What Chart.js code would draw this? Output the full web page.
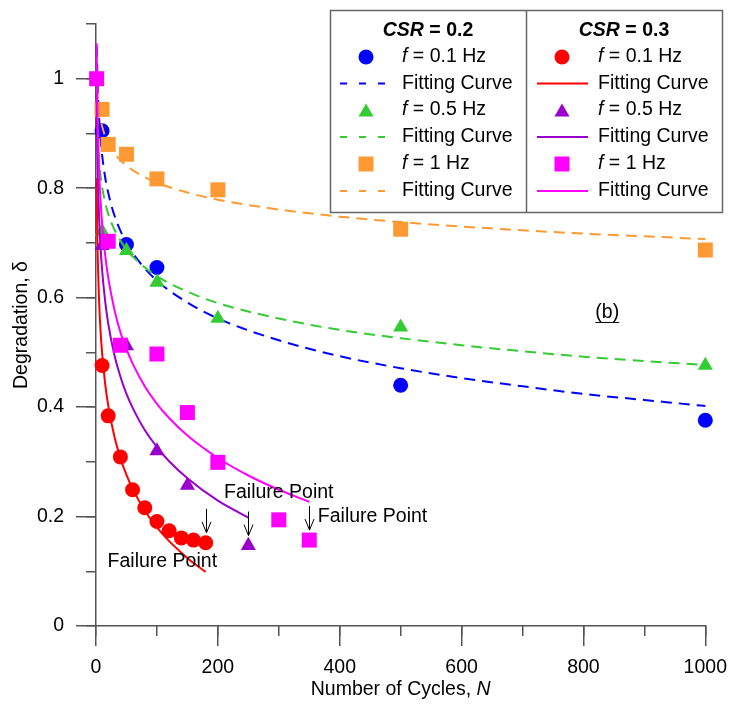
<!DOCTYPE html>
<html>
<head>
<meta charset="utf-8">
<title>Degradation vs number of cycles</title>
<script src="https://cdn.jsdelivr.net/npm/chart.js@4.4.1/dist/chart.umd.min.js"></script>
<style>
  html, body { margin: 0; padding: 0; background: #fff; }
  #wrap { width: 737px; height: 704px; position: relative; }
</style>
</head>
<body>
<div id="wrap"><canvas id="degradation-chart"></canvas></div>
<script>
// Measured degradation index, CSR = 0.2
let blueN = [10, 50, 100, 500, 1000];
let blueD = [0.905, 0.697, 0.655, 0.44, 0.376];
let greenN = [10, 50, 100, 200, 500, 1000];
let greenD = [0.721, 0.686, 0.628, 0.562, 0.546, 0.476];
let orangeN = [10, 20, 50, 100, 200, 500, 1000];
let orangeD = [0.944, 0.880, 0.862, 0.817, 0.797, 0.725, 0.687];

// Measured degradation index, CSR = 0.3
let redN = [10, 20, 40, 60, 80, 100, 120, 140, 160, 180];
let redD = [0.476, 0.384, 0.309, 0.249, 0.216, 0.191, 0.174, 0.161, 0.157, 0.152];
let purpleN = [10, 50, 100, 150, 250];
let purpleD = [0.695, 0.512, 0.320, 0.257, 0.147];
let magentaN = [1, 20, 40, 100, 150, 200, 300, 350];
let magentaD = [1.0, 0.703, 0.513, 0.497, 0.390, 0.299, 0.194, 0.157];

// Fitting curves
let fitN02 = [1, 2, 3, 5, 7, 10, 15, 20, 30, 50, 70, 100, 150, 200, 300, 400, 500, 600, 700, 800, 900, 1000];
let blueFit = [1.06, 1.021, 0.981, 0.930, 0.896, 0.861, 0.820, 0.792, 0.751, 0.700, 0.667, 0.631, 0.591, 0.562, 0.522, 0.493, 0.471, 0.453, 0.438, 0.424, 0.413, 0.402];
let greenFit = [0.965, 0.916, 0.887, 0.851, 0.827, 0.802, 0.774, 0.753, 0.725, 0.688, 0.665, 0.639, 0.611, 0.590, 0.562, 0.541, 0.526, 0.513, 0.502, 0.492, 0.484, 0.477];
let orangeFit = [1.016, 0.985, 0.967, 0.944, 0.929, 0.913, 0.895, 0.882, 0.864, 0.841, 0.826, 0.810, 0.792, 0.779, 0.761, 0.748, 0.738, 0.730, 0.723, 0.717, 0.712, 0.707];

let redFitN = [1, 2, 3, 5, 7, 10, 15, 20, 30, 40, 50, 60, 80, 100, 120, 140, 160, 180];
let redFit = [0.818, 0.722, 0.666, 0.595, 0.548, 0.499, 0.443, 0.403, 0.347, 0.307, 0.276, 0.251, 0.211, 0.180, 0.155, 0.134, 0.115, 0.099];
let purpleFitN = [1, 2, 3, 5, 7, 10, 15, 20, 30, 40, 50, 60, 80, 100, 120, 150, 200, 250];
let purpleFit = [0.975, 0.877, 0.820, 0.748, 0.701, 0.651, 0.594, 0.553, 0.496, 0.456, 0.424, 0.399, 0.358, 0.327, 0.301, 0.270, 0.229, 0.198];
let magentaFitN = [1, 2, 3, 5, 7, 10, 15, 20, 30, 40, 50, 60, 80, 100, 120, 150, 200, 250, 300, 350];
let magentaFit = [1.065, 0.966, 0.908, 0.835, 0.787, 0.736, 0.678, 0.637, 0.579, 0.537, 0.506, 0.480, 0.438, 0.406, 0.380, 0.348, 0.307, 0.275, 0.249, 0.227];

// Failure points (last cycle of each CSR = 0.3 test)
let failureN = [180, 250, 350];
let failureD = [0.152, 0.147, 0.157];

const FONT = '19.5px "Liberation Sans", Arial, sans-serif';
const axisColor = '#555';

const pts = (xs, ys) => xs.map((x, i) => ({ x: x, y: ys[i] }));

function markers(label, xs, ys, color, style, radius) {
  return {
    label: label, data: pts(xs, ys), showLine: false, clip: false,
    pointStyle: style, pointRadius: radius, pointHoverRadius: radius,
    pointBackgroundColor: color, pointBorderWidth: 0,
    backgroundColor: color, borderColor: color
  };
}

function curve(label, xs, ys, color, dash) {
  return {
    label: label, data: pts(xs, ys), showLine: true, clip: false,
    pointRadius: 0, pointHoverRadius: 0, borderWidth: 2, borderColor: color,
    borderDash: dash, cubicInterpolationMode: 'monotone', fill: false
  };
}

let datasets = [
  markers('f = 0.1 Hz', blueN, blueD, '#0000ff', 'circle', 7.5),
  curve('Fitting Curve', fitN02, blueFit, '#0000ff', [11, 7]),
  markers('f = 0.5 Hz', greenN, greenD, '#33cc33', 'triangle', 8.7),
  curve('Fitting Curve', fitN02, greenFit, '#33cc33', [11, 7]),
  markers('f = 1 Hz', orangeN, orangeD, '#ff9933', 'rect', 10.6),
  curve('Fitting Curve', fitN02, orangeFit, '#ff9933', [11, 7]),
  markers('f = 0.1 Hz', redN, redD, '#ff0000', 'circle', 7.5),
  curve('Fitting Curve', redFitN, redFit, '#ff0000', []),
  markers('f = 0.5 Hz', purpleN, purpleD, '#9900cc', 'triangle', 8.7),
  curve('Fitting Curve', purpleFitN, purpleFit, '#9900cc', []),
  markers('f = 1 Hz', magentaN, magentaD, '#ff00ff', 'rect', 10.6),
  curve('Fitting Curve', magentaFitN, magentaFit, '#ff00ff', [])
];
// later series sit on top
datasets.forEach((d, i) => { d.order = datasets.length - i; });

// draws text made of several font runs
function drawRuns(ctx, runs, x, y, align) {
  let total = 0;
  runs.forEach(r => { ctx.font = r[1]; total += ctx.measureText(r[0]).width; });
  let cx = align === 'center' ? x - total / 2 : x;
  ctx.textAlign = 'left';
  runs.forEach(r => {
    ctx.font = r[1];
    ctx.fillText(r[0], cx, y);
    cx += ctx.measureText(r[0]).width;
  });
}

function drawMarker(ctx, style, r, x, y, color) {
  ctx.fillStyle = color;
  ctx.beginPath();
  if (style === 'circle') {
    ctx.arc(x, y, r, 0, Math.PI * 2);
  } else if (style === 'rect') {
    const s = r * Math.SQRT1_2;
    ctx.rect(x - s, y - s, 2 * s, 2 * s);
  } else {
    ctx.moveTo(x, y - r);
    ctx.lineTo(x + 0.866 * r, y + 0.5 * r);
    ctx.lineTo(x - 0.866 * r, y + 0.5 * r);
    ctx.closePath();
  }
  ctx.fill();
}

const decor = {
  id: 'decor',
  afterDraw(chart) {
    const { ctx, chartArea } = chart;
    const xs = chart.scales.x, ys = chart.scales.y;
    ctx.save();
    ctx.fillStyle = '#000';
    ctx.textBaseline = 'middle';

    // axis titles
    drawRuns(ctx, [['Number of Cycles, ', FONT], ['N', 'italic ' + FONT]],
      (chartArea.left + chartArea.right) / 2, 690, 'center');
    ctx.save();
    ctx.translate(22, (chartArea.top + chartArea.bottom) / 2);
    ctx.rotate(-Math.PI / 2);
    drawRuns(ctx, [['Degradation, \u03b4', FONT]], 0, 0, 'center');
    ctx.restore();

    // failure arrows
    ctx.strokeStyle = '#000';
    ctx.lineWidth = 1;
    failureN.forEach((n, i) => {
      const px = Math.round(xs.getPixelForValue(n)) + 0.5;
      const tip = ys.getPixelForValue(failureD[i]) - 10;
      ctx.beginPath();
      ctx.moveTo(px, tip - 24);
      ctx.lineTo(px, tip);
      ctx.moveTo(px - 4.5, tip - 11);
      ctx.lineTo(px, tip);
      ctx.lineTo(px + 4.5, tip - 11);
      ctx.stroke();
    });
    ctx.fillStyle = '#000';
    [[300, 0.243, 'center'], [364, 0.199, 'left'], [19, 0.117, 'left']].forEach(a => {
      drawRuns(ctx, [['Failure Point', FONT]], xs.getPixelForValue(a[0]), ys.getPixelForValue(a[1]), a[2]);
    });

    // panel tag
    const bx = xs.getPixelForValue(839), by = ys.getPixelForValue(0.572);
    drawRuns(ctx, [['(b)', FONT]], bx, by, 'center');
    ctx.font = FONT;
    const bw = ctx.measureText('(b)').width;
    ctx.beginPath();
    ctx.moveTo(bx - bw / 2, by + 9.5);
    ctx.lineTo(bx + bw / 2, by + 9.5);
    ctx.stroke();

    // legend box
    const L = 330.5, T = 10.5, W = 392, H = 202, mid = 526.5;
    ctx.fillStyle = '#fff';
    ctx.fillRect(L, T, W, H);
    ctx.strokeStyle = '#666';
    ctx.lineWidth = 1.5;
    ctx.strokeRect(L, T, W, H);
    ctx.beginPath();
    ctx.moveTo(mid, T);
    ctx.lineTo(mid, T + H);
    ctx.stroke();

    const cols = [
      { head: '0.2', cx: 428, mx: 366, tx: 402, lx0: 340, lx1: 392, first: 0 },
      { head: '0.3', cx: 624, mx: 562, tx: 598, lx0: 537, lx1: 588, first: 6 }
    ];
    const rowY = [57, 83.5, 110, 137, 164, 191];
    const freqs = [' = 0.1 Hz', ' = 0.5 Hz', ' = 1 Hz'];
    cols.forEach(c => {
      ctx.fillStyle = '#000';
      drawRuns(ctx, [['CSR', 'italic bold ' + FONT], [' = ' + c.head, 'bold ' + FONT]], c.cx, 31, 'center');
      for (let k = 0; k < 3; k++) {
        const m = chart.data.datasets[c.first + 2 * k];
        const f = chart.data.datasets[c.first + 2 * k + 1];
        const y1 = rowY[2 * k], y2 = rowY[2 * k + 1];
        const yOff = m.pointStyle === 'triangle' ? 2.2 : 0;
        drawMarker(ctx, m.pointStyle, m.pointRadius, c.mx, y1 + yOff, m.pointBackgroundColor);
        ctx.fillStyle = '#000';
        drawRuns(ctx, [['f', 'italic ' + FONT], [freqs[k], FONT]], c.tx, y1, 'left');
        ctx.strokeStyle = f.borderColor;
        ctx.lineWidth = 2;
        ctx.setLineDash(f.borderDash.length ? [7, 12] : []);
        ctx.beginPath();
        ctx.moveTo(c.lx0, y2);
        ctx.lineTo(c.lx1, y2);
        ctx.stroke();
        ctx.setLineDash([]);
        drawRuns(ctx, [['Fitting Curve', FONT]], c.tx, y2, 'left');
      }
    });
    ctx.restore();
  }
};

const tickFont = { family: '"Liberation Sans", Arial, sans-serif', size: 19.5 };
const ctx = document.getElementById('degradation-chart').getContext('2d');

let chart = new Chart(ctx, {
  type: 'scatter',
  data: { datasets: datasets },
  options: {
    responsive: true,
    maintainAspectRatio: false,
    animation: false,
    events: [],
    layout: { padding: { left: 36, right: 27, top: 24, bottom: 28 } },
    plugins: { legend: { display: false }, tooltip: { enabled: false } },
    scales: {
      x: {
        type: 'linear', position: 'bottom', min: 0, max: 1000,
        afterFit: s => { s.height = 50; },
        ticks: { stepSize: 200, padding: 10, color: '#000', font: tickFont, maxRotation: 0, includeBounds: false,
                 callback: v => String(v) },
        grid: { drawOnChartArea: false, tickLength: 20, color: axisColor, lineWidth: 1.5 },
        border: { color: axisColor, width: 1.5 }
      },
      y: {
        type: 'linear', position: 'left', min: 0, max: 1.1,
        afterFit: s => { s.width = 60; },
        ticks: { stepSize: 0.2, padding: 12, color: '#000', font: tickFont, includeBounds: false,
                 callback: v => String(+v.toFixed(1)) },
        grid: { drawOnChartArea: false, tickLength: 20, color: axisColor, lineWidth: 1.5 },
        border: { color: axisColor, width: 1.5 }
      },
      xMinor: {
        type: 'linear', axis: 'x', position: { y: 0 }, min: 0, max: 1000,
        ticks: { display: false, stepSize: 100 },
        grid: { drawOnChartArea: false, tickLength: 10, color: axisColor, lineWidth: 1.5 },
        border: { display: false }
      },
      yMinor: {
        type: 'linear', axis: 'y', position: { x: 0 }, min: 0, max: 1.1,
        ticks: { display: false, stepSize: 0.1 },
        grid: { drawOnChartArea: false, tickLength: 10, color: axisColor, lineWidth: 1.5 },
        border: { display: false }
      }
    }
  },
  plugins: [decor]
});
</script>
</body>
</html>
